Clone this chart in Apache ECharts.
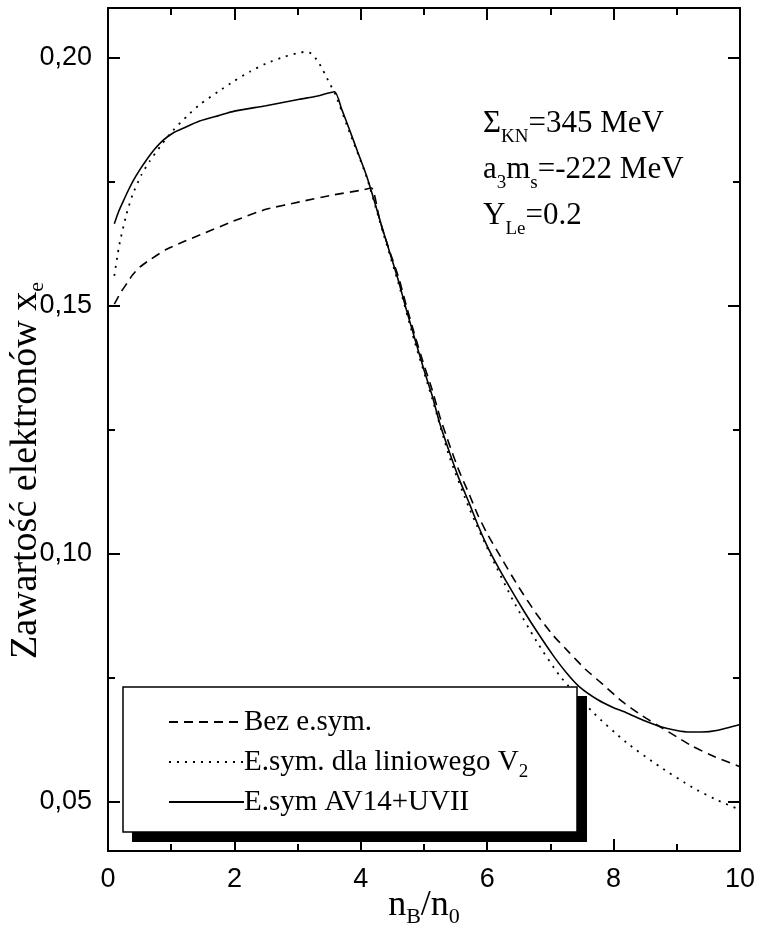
<!DOCTYPE html>
<html><head><meta charset="utf-8">
<script src="https://cdn.jsdelivr.net/npm/echarts@6/dist/echarts.min.js"></script>
<style>html,body{margin:0;padding:0;background:#fff}#c{width:759px;height:934px}</style>
</head><body><div id="c"></div>
<script>
// ---- data ----
const seriesNames = ['Bez e.sym.', 'E.sym. dla liniowego V2', 'E.sym AV14+UVII'];
const yMajorTicks = [0.05, 0.10, 0.15, 0.20];
const yMinorTicks = [0.075, 0.125, 0.175];

const xDashed = [0.1,0.2,0.3,0.39,0.5,0.66,0.92,1.2,1.45,1.98,2.5,3.03,3.56,4.03,4.17,4.3,4.45,4.6,4.72,4.85,5.0,5.13,5.25,5.4,5.55,5.72,5.85,6.0,6.25,6.5,6.78,7.05,7.3,7.55,7.83,8.15,8.45,8.73,9.0,9.25,9.6,10];
const yDashed = [0.1503,0.1526,0.1545,0.1562,0.1577,0.1592,0.1613,0.1629,0.1642,0.1670,0.1694,0.1709,0.1723,0.1733,0.1737,0.1672,0.1612,0.1556,0.1500,0.1442,0.1380,0.1330,0.1276,0.1220,0.1168,0.1118,0.1078,0.1040,0.0985,0.0932,0.0878,0.0834,0.0800,0.0767,0.0736,0.0700,0.0673,0.0651,0.0630,0.0611,0.0590,0.0570];

const xDotted = [0.1,0.18,0.29,0.39,0.53,0.66,0.85,1.03,1.25,1.45,1.75,2.0,2.25,2.5,2.8,3.0,3.14,3.22,3.3,3.38,3.45,3.52,3.6,3.82,4.09,4.35,4.6,4.85,5.13,5.4,5.72,6.06,6.41,6.78,7.15,7.67,8.2,8.73,9.25,9.6,10];
const yDotted = [0.1560,0.1623,0.1683,0.1724,0.1764,0.1791,0.1825,0.1853,0.1882,0.1905,0.1932,0.1953,0.1972,0.1988,0.2002,0.2009,0.2012,0.2008,0.1996,0.1980,0.1962,0.1945,0.1925,0.1850,0.1760,0.1648,0.1543,0.1428,0.1312,0.1196,0.1090,0.0995,0.0905,0.0823,0.0753,0.0680,0.0619,0.0570,0.0528,0.0505,0.0483];

const xSolid = [0.1,0.17,0.24,0.32,0.4,0.5,0.6,0.73,0.87,1.03,1.2,1.45,1.75,2.0,2.5,3.03,3.3,3.585,3.7,3.82,3.95,4.09,4.22,4.35,4.48,4.6,4.72,4.85,5.0,5.13,5.25,5.4,5.55,5.72,5.85,6.0,6.15,6.35,6.58,6.8,7.04,7.25,7.46,7.75,8.0,8.2,8.5,8.73,9.0,9.2,9.4,9.63,10];
const ySolid = [0.1665,0.1690,0.1710,0.1732,0.1752,0.1773,0.1792,0.1814,0.1833,0.1848,0.1858,0.1872,0.1883,0.1892,0.1903,0.1916,0.1922,0.1931,0.1895,0.1855,0.1810,0.1762,0.1708,0.1652,0.1598,0.1548,0.1492,0.1435,0.1370,0.1318,0.1262,0.1205,0.1152,0.1100,0.1058,0.1015,0.0978,0.0933,0.0884,0.0840,0.0795,0.0760,0.0731,0.0705,0.0689,0.0679,0.0662,0.0651,0.0643,0.0640,0.0640,0.0643,0.0655];

// ---- chart ----
const SERIF = "'Liberation Serif','Times New Roman',serif";
const SANS = "'Liberation Sans',Arial,sans-serif";
const zip = (xs, ys) => xs.map((x, i) => [x, ys[i]]);
const chart = echarts.init(document.getElementById('c'), null, {renderer: 'canvas'});

const axisLine = {show: true, lineStyle: {color: '#000', width: 2}};
const yBase = {type: 'value', min: 0.04, max: 0.21, splitLine: {show: false}, axisLine: axisLine};

chart.setOption({
  animation: false,
  backgroundColor: '#fff',
  grid: {left: 108, right: 19, top: 8, bottom: 83, containLabel: false, outerBoundsMode: 'none'},
  xAxis: [
    {type: 'value', min: 0, max: 10, interval: 2, position: 'bottom',
     splitLine: {show: false}, axisLine: axisLine,
     axisTick: {inside: true, length: 12, lineStyle: {width: 2, color: '#000'}},
     minorTick: {show: true, splitNumber: 2, length: 7, lineStyle: {width: 2, color: '#000'}},
     axisLabel: {margin: 15, fontFamily: SANS, fontSize: 27, color: '#000'},
     name: '{m|n}{s|B}{m|/n}{s|0}', nameLocation: 'middle', nameGap: 33, nameMoveOverlap: false,
     nameTextStyle: {rich: {
       m: {fontFamily: SERIF, fontSize: 36, lineHeight: 44, color: '#000'},
       s: {fontFamily: SERIF, fontSize: 22, lineHeight: 24, verticalAlign: 'bottom', color: '#000'}}}},
    {type: 'value', min: 0, max: 10, interval: 2, position: 'top',
     splitLine: {show: false}, axisLine: axisLine,
     axisTick: {inside: true, length: 12, lineStyle: {width: 2, color: '#000'}},
     minorTick: {show: true, splitNumber: 2, length: 7, lineStyle: {width: 2, color: '#000'}},
     axisLabel: {show: false}}
  ],
  yAxis: [
    Object.assign({}, yBase, {position: 'left',
      axisTick: {inside: true, length: 12, customValues: yMajorTicks, lineStyle: {width: 2, color: '#000'}},
      axisLabel: {margin: 16, customValues: yMajorTicks, fontFamily: SANS, fontSize: 27, color: '#000',
        formatter: v => v.toFixed(2).replace('.', ',')},
      name: '{m|Zawartość elektronów x}{s|e}', nameLocation: 'middle', nameRotate: 90, nameGap: 60,
      nameMoveOverlap: false,
      nameTextStyle: {padding: [0, 82, 0, 0], rich: {
        m: {fontFamily: SERIF, fontSize: 38, lineHeight: 44, color: '#000'},
        s: {fontFamily: SERIF, fontSize: 22, lineHeight: 24, verticalAlign: 'bottom', color: '#000'}}}}),
    Object.assign({}, yBase, {position: 'left',
      axisTick: {inside: true, length: 7, customValues: yMinorTicks, lineStyle: {width: 2, color: '#000'}},
      axisLabel: {show: false}}),
    Object.assign({}, yBase, {position: 'right',
      axisTick: {inside: true, length: 12, customValues: yMajorTicks, lineStyle: {width: 2, color: '#000'}},
      axisLabel: {show: false}}),
    Object.assign({}, yBase, {position: 'right',
      axisTick: {inside: true, length: 7, customValues: yMinorTicks, lineStyle: {width: 2, color: '#000'}},
      axisLabel: {show: false}})
  ],
  legend: {
    orient: 'vertical', left: 123, top: 687, z: 10,
    padding: [15, 44, 10, 45], itemGap: 0, itemWidth: 75, itemHeight: 14,
    itemStyle: {opacity: 0},
    data: seriesNames,
    formatter: name => name.endsWith(' V2') ? name.slice(0, -1) + '{s|2}' : name,
    textStyle: {fontFamily: SERIF, fontSize: 29, lineHeight: 40, color: '#000', padding: [0, 0, 0, -5],
      rich: {s: {fontFamily: SERIF, fontSize: 19, lineHeight: 14, verticalAlign: 'bottom', color: '#000'}}}
  },
  series: [
    {name: seriesNames[0], type: 'line', data: zip(xDashed, yDashed), showSymbol: false, symbol: 'none',
     smooth: 0.2, itemStyle: {color: '#000'}, lineStyle: {color: '#000', width: 1.6, type: [9, 6]}},
    {name: seriesNames[1], type: 'line', data: zip(xDotted, yDotted), showSymbol: false, symbol: 'none',
     smooth: 0.2, itemStyle: {color: '#000'}, lineStyle: {color: '#000', width: 1.8, type: [2, 6]}},
    {name: seriesNames[2], type: 'line', data: zip(xSolid, ySolid), showSymbol: false, symbol: 'none',
     smooth: 0.2, itemStyle: {color: '#000'}, lineStyle: {color: '#000', width: 1.6, type: 'solid'}}
  ],
  graphic: [
    {type: 'rect', z: 5, silent: true, shape: {x: 132, y: 696, width: 455, height: 146}, style: {fill: '#000'}},
    {type: 'rect', z: 6, silent: true, shape: {x: 123, y: 687, width: 454, height: 145},
     style: {fill: '#fff', stroke: '#000', lineWidth: 1.5}},
    {type: 'text', left: 483, top: 108, silent: true,
     style: {
      text: '{m|Σ}{s|KN}{m|=345 MeV}\n{m|a}{s|3}{m|m}{s|s}{m|=-222 MeV}\n{m|Y}{s|Le}{m|=0.2}',
      rich: {
        m: {fontFamily: SERIF, fontSize: 31, lineHeight: 46, fill: '#000'},
        s: {fontFamily: SERIF, fontSize: 19, lineHeight: 24, verticalAlign: 'bottom', fill: '#000'}
      }
    }}
  ]
});
</script></body></html>
